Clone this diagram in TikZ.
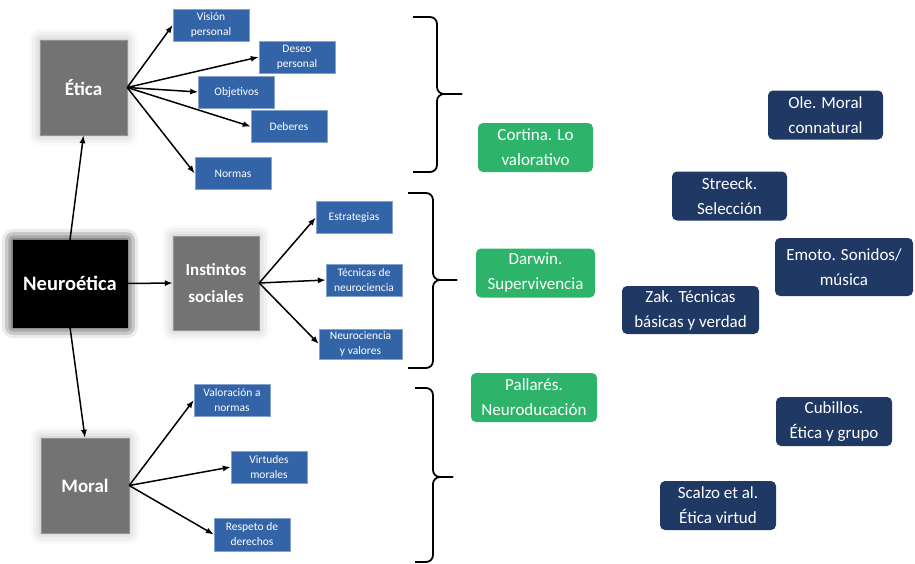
\documentclass[tikz,border=0pt]{standalone}
\usepackage{fontspec}
\setmainfont{Carlito}
\usetikzlibrary{arrows.meta,shadows.blur}
\definecolor{boxgray}{HTML}{737373}
\definecolor{topicblue}{HTML}{3464A8}
\definecolor{authornavy}{HTML}{1F3864}
\definecolor{authorgreen}{HTML}{2EB46A}
\tikzset{
    every node/.style={align=center,},
    glow/.style={blur shadow={shadow xshift=0pt,shadow yshift=0pt,shadow blur radius=11pt,shadow opacity=#1}},
    mainbox/.style={rectangle,fill=boxgray,draw=gray!85,text=white,font=\bfseries\fontsize{19}{27}\selectfont,inner sep=0pt,glow=30},
    topic/.style={rectangle,fill=topicblue,draw=topicblue!60!white,text=white,font=\fontsize{11.5}{15}\selectfont,minimum width=76pt,minimum height=32pt,inner sep=0pt},
    author/.style={rectangle,rounded corners=5pt,text=white,font=\fontsize{17}{25}\selectfont,minimum height=49pt,inner sep=0pt},
    arrow/.style={-{Latex[length=8pt,width=6pt]},line width=1.5pt},
    bracket/.style={line width=1.8pt,rounded corners=7pt},
}

\begin{document}
\begin{tikzpicture}[x=1pt,y=-1pt]
    \useasboundingbox (0,0) rectangle (915,563);

    % main concepts
    \node[mainbox,minimum width=87pt,minimum height=95pt] (etica) at (83.5,87.5) {Ética};
    \node[mainbox,fill=black,draw=black,glow=60,font=\bfseries\fontsize{20.5}{27}\selectfont,minimum width=114pt,minimum height=87pt] (neuro) at (70,283.5) {Neuroética};
    \node[mainbox,font=\bfseries\fontsize{17}{27}\selectfont,minimum width=86pt,minimum height=94pt] (instintos) at (216,283) {Instintos\\sociales};
    \node[mainbox,minimum width=88pt,minimum height=95pt] (moral) at (85,485.5) {Moral};

    % Etica
    \node[topic] (vision) at (211,25) {Visión\\personal};
    \node[topic] (deseo) at (297,57) {Deseo\\personal};
    \node[topic] (objetivos) at (236.5,92) {Objetivos};
    \node[topic] (deberes) at (289,126.5) {Deberes};
    \node[topic] (normas) at (233,173.5) {Normas};

    % Instintos sociales
    \node[topic] (estrategias) at (354,217.5) {Estrategias};
    \node[topic] (tecnicas) at (364,280) {Técnicas de\\neurociencia};
    \node[topic,minimum width=83pt,minimum height=30pt] (valores) at (360.5,344) {Neurociencia\\y valores};

    % Moral
    \node[topic] (valoracion) at (232,400) {Valoración a\\normas};
    \node[topic] (virtudes) at (269,467) {Virtudes\\morales};
    \node[topic,minimum height=33pt] (respeto) at (252,534.5) {Respeto de\\derechos};

    \draw[arrow] (etica.east) -- (vision.west);
    \draw[arrow] (etica.east) -- (deseo.west);
    \draw[arrow] (etica.east) -- (objetivos.west);
    \draw[arrow] (etica.east) -- (deberes.west);
    \draw[arrow] (etica.east) -- (normas.west);

    \draw[arrow] (neuro.north) -- (etica.south);
    \draw[arrow] (neuro.east) -- (instintos.west);
    \draw[arrow] (neuro.south) -- (moral.north);

    \draw[arrow] (instintos.east) -- (estrategias.west);
    \draw[arrow] (instintos.east) -- (tecnicas.west);
    \draw[arrow] (instintos.east) -- (valores.west);

    \draw[arrow] (moral.east) -- (valoracion.west);
    \draw[arrow] (moral.east) -- (virtudes.west);
    \draw[arrow] (moral.east) -- (respeto.west);

    % braces
    \draw[bracket] (413,17) -- (437,17) -- (437,94) -- (462,94);
    \draw[bracket] (413,172) -- (437,172) -- (437,94) -- (462,94);
    \draw[bracket] (408,193) -- (433,193) -- (433,280) -- (457,280);
    \draw[bracket] (408,368) -- (433,368) -- (433,280) -- (457,280);
    \draw[bracket] (415,388) -- (433,388) -- (433,477) -- (453,477);
    \draw[bracket] (415,562) -- (433,562) -- (433,477) -- (453,477);

    % authors
    \node[author,fill=authorgreen,minimum width=115pt] (cortina) at (535.5,147.5) {Cortina. Lo\\valorativo};
    \node[author,fill=authorgreen,minimum width=119pt] (darwin) at (535.5,273) {Darwin.\\Supervivencia};
    \node[author,fill=authorgreen,minimum width=126pt] (pallares) at (534,397.5) {Pallarés.\\Neuroducación};

    \node[author,fill=authornavy,minimum width=115pt] (ole) at (825.5,115) {Ole. Moral\\connatural};
    \node[author,fill=authornavy,minimum width=115pt] (streeck) at (729.5,196) {Streeck.\\Selección};
    \node[author,fill=authornavy,minimum width=138pt,minimum height=58pt] (emoto) at (844,267) {Emoto. Sonidos/\\música};
    \node[author,fill=authornavy,minimum width=137pt,minimum height=48pt] (zak) at (690.5,310) {Zak. Técnicas\\básicas y verdad};
    \node[author,fill=authornavy,minimum width=116pt] (cubillos) at (834,421.5) {Cubillos.\\Ética y grupo};
    \node[author,fill=authornavy,minimum width=116pt] (scalzo) at (718,505.5) {Scalzo et al.\\Ética virtud};
\end{tikzpicture}
\end{document}
